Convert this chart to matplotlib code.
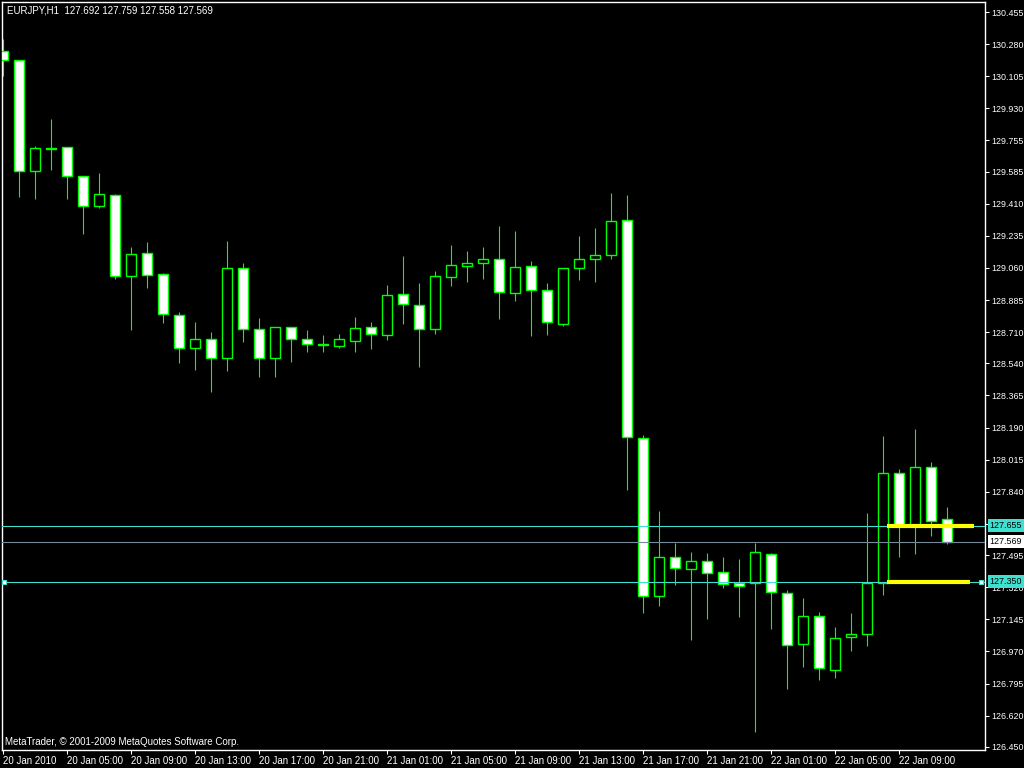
import matplotlib
matplotlib.use("Agg")
import matplotlib.pyplot as plt
import matplotlib.transforms as mtransforms

# =============================================================================
# Data (EURJPY H1)
# =============================================================================
chart_title = "EURJPY,H1  127.692 127.759 127.558 127.569"
copyright_text = "MetaTrader, \u00a9 2001-2009 MetaQuotes Software Corp."

opens = [130.241, 130.192, 129.587, 129.712, 129.718, 129.560, 129.396, 129.456,
         129.015, 129.140, 129.025, 128.802, 128.622, 128.671, 128.568, 129.058,
         128.727, 128.568, 128.738, 128.672, 128.644, 128.636, 128.664, 128.738,
         128.696, 128.918, 128.857, 128.726, 129.012, 129.072, 129.089, 129.107,
         128.922, 129.069, 128.938, 128.753, 129.058, 129.107, 129.129, 129.320,
         128.132, 127.271, 127.483, 127.418, 127.461, 127.401, 127.345, 127.341,
         127.499, 127.287, 127.009, 127.162, 126.867, 127.047, 127.063, 127.345,
         127.941, 127.658, 127.974, 127.692]
highs = [130.308, 130.195, 129.725, 129.872, 129.720, 129.562, 129.576, 129.463,
         129.174, 129.201, 129.033, 128.820, 128.765, 128.711, 129.207, 129.087,
         128.787, 128.740, 128.740, 128.722, 128.695, 128.700, 128.793, 128.765,
         128.967, 129.125, 128.978, 129.043, 129.185, 129.152, 129.174, 129.289,
         129.261, 129.098, 128.978, 129.060, 129.234, 129.278, 129.469, 129.458,
         128.148, 127.735, 127.559, 127.510, 127.505, 127.483, 127.472, 127.559,
         127.505, 127.303, 127.260, 127.183, 127.102, 127.178, 127.723, 128.144,
         127.963, 128.182, 128.001, 127.759]
lows = [130.108, 129.448, 129.437, 129.596, 129.437, 129.247, 129.388, 129.002,
        128.724, 128.952, 128.762, 128.544, 128.506, 128.386, 128.500, 128.658,
        128.467, 128.467, 128.549, 128.604, 128.604, 128.625, 128.604, 128.620,
        128.669, 128.756, 128.522, 128.702, 128.963, 128.985, 129.002, 128.783,
        128.882, 128.691, 128.696, 128.745, 128.996, 128.985, 129.110, 127.852,
        127.181, 127.219, 127.334, 127.034, 127.148, 127.317, 127.159, 126.533,
        127.094, 126.767, 126.887, 126.816, 126.827, 126.974, 127.001, 127.279,
        127.486, 127.503, 127.601, 127.558]
closes = [130.192, 129.587, 129.712, 129.710, 129.560, 129.396, 129.461, 129.015,
          129.134, 129.020, 128.807, 128.622, 128.671, 128.568, 129.058, 128.726,
          128.568, 128.738, 128.671, 128.644, 128.640, 128.672, 128.733, 128.698,
          128.911, 128.865, 128.726, 129.016, 129.076, 129.087, 129.107, 128.931,
          129.064, 128.938, 128.764, 129.058, 129.107, 129.129, 129.314, 128.137,
          127.271, 127.483, 127.423, 127.461, 127.396, 127.336, 127.325, 127.510,
          127.292, 127.003, 127.162, 126.878, 127.042, 127.063, 127.345, 127.941,
          127.658, 127.974, 127.679, 127.569]

time_labels = ["20 Jan 2010", "20 Jan 05:00", "20 Jan 09:00", "20 Jan 13:00",
               "20 Jan 17:00", "20 Jan 21:00", "21 Jan 01:00", "21 Jan 05:00",
               "21 Jan 09:00", "21 Jan 13:00", "21 Jan 17:00", "21 Jan 21:00",
               "22 Jan 01:00", "22 Jan 05:00", "22 Jan 09:00"]
label_step = 4

price_ticks = [130.455, 130.280, 130.105, 129.930, 129.755, 129.585, 129.410,
               129.235, 129.060, 128.885, 128.710, 128.540, 128.365, 128.190,
               128.015, 127.840, 127.665, 127.495, 127.320, 127.145, 126.970,
               126.795, 126.620, 126.450]

level_upper = 127.655
level_lower = 127.350
bid_price = 127.569

# =============================================================================
# Styles
# =============================================================================
GREEN = "#00FF00"
CYAN = "#40E0D0"
SLATE = "#778899"
YELLOW = "#FFFF00"
FONT = ["Liberation Sans", "DejaVu Sans"]

plt.rcParams["font.family"] = FONT

fig = plt.figure(figsize=(10.24, 7.68), dpi=100, facecolor="black")
ax = fig.add_axes([2 / 1024, 18 / 768, 983 / 1024, 748 / 768], facecolor="black")

n = len(opens)
xs = list(range(n))

# wicks
ax.vlines(xs, lows, highs, color=GREEN, linewidth=0.8, zorder=2)

# bodies: bull = black, bear = white
bottoms = [min(o, c) for o, c in zip(opens, closes)]
heights = [abs(c - o) for o, c in zip(opens, closes)]
faces = ["black" if c > o else "white" for o, c in zip(opens, closes)]
ax.bar(xs, heights, bottom=bottoms, width=0.62, color=faces,
       edgecolor=GREEN, linewidth=1.0, zorder=3)

# horizontal levels
ax.axhline(level_upper, color=CYAN, linewidth=0.8, zorder=4)
ax.axhline(level_lower, color=CYAN, linewidth=0.8, zorder=4)
ax.axhline(bid_price, color=SLATE, linewidth=0.8, zorder=4)

# yellow segments
ax.hlines(level_upper, 55.25, 60.7, color=YELLOW, linewidth=3.0, zorder=5)
ax.hlines(level_lower, 55.25, 60.45, color=YELLOW, linewidth=3.0, zorder=5)

# line anchors
ax.plot([0.06, 61.12], [level_lower, level_lower], linestyle="none", marker="s",
        markersize=3.5, markerfacecolor="white", markeredgecolor=CYAN,
        markeredgewidth=0.8, zorder=6, clip_on=False)

ax.set_xlim(-0.0625, 61.375)
ax.set_ylim(126.433, 130.5095)

# axes / ticks
for spine in ax.spines.values():
    spine.set_color("white")
    spine.set_linewidth(1.0)

ax.yaxis.tick_right()
ax.set_yticks(price_ticks)
ax.set_yticklabels([f"{p:.3f}" for p in price_ticks])
ax.tick_params(axis="y", colors="white", direction="out", length=3, width=0.8,
               pad=1.5, labelsize=6.4)

ax.set_xticks(list(range(0, label_step * len(time_labels), label_step)))
ax.set_xticklabels(time_labels)
ax.tick_params(axis="x", colors="white", direction="out", length=3, width=0.8,
               pad=1.5, labelsize=7)
for lbl in ax.get_xticklabels():
    lbl.set_horizontalalignment("left")

# price boxes on the right axis
trans = mtransforms.blended_transform_factory(ax.transAxes, ax.transData)
for level, face in [(level_upper, CYAN), (bid_price, "white"), (level_lower, CYAN)]:
    ax.text(1.0045, level, f"{level:.3f}", transform=trans, ha="left", va="center",
            fontsize=6.4, color="black", clip_on=False, zorder=10,
            bbox=dict(boxstyle="square,pad=0.2", facecolor=face, edgecolor="none"))

# texts
ax.text(0.005, 0.989, chart_title, transform=ax.transAxes, ha="left", va="center",
        color="white", fontsize=7)
ax.text(0.003, 0.011, copyright_text, transform=ax.transAxes, ha="left",
        va="center", color="white", fontsize=7)

fig.savefig("out.png", dpi=100, facecolor="black")
